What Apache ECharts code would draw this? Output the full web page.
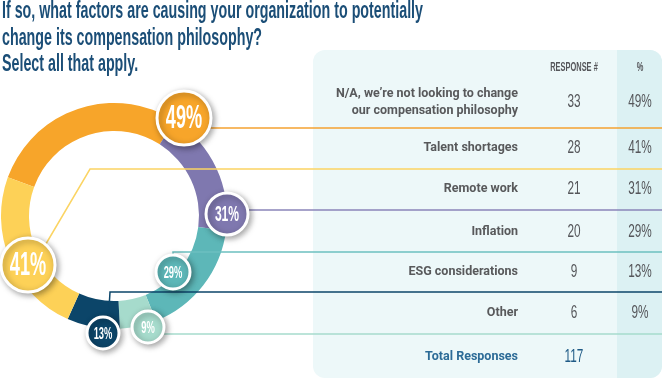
<!DOCTYPE html>
<html><head><meta charset="utf-8">
<script src="https://cdn.jsdelivr.net/npm/echarts@6/dist/echarts.min.js"></script>
<style>html,body{margin:0;padding:0;background:#fff}#c{width:662px;height:380px}</style>
</head><body><div id="c"></div>
<script>
// ---------- data ----------
const titleLines = [
  'If so, what factors are causing your organization to potentially',
  'change its compensation philosophy?',
  'Select all that apply.'
];
const categories = [
  'N/A, we\u2019re not looking to change\nour compensation philosophy',
  'Talent shortages',
  'Remote work',
  'Inflation',
  'ESG considerations',
  'Other'
];
const responses = [33, 28, 21, 20, 9, 6];
const percents = [49, 41, 31, 29, 13, 9];
const totalLabel = 'Total Responses';
const totalResponses = 117;
const headerLabels = ['RESPONSE #', '%'];
// order of the slices around the ring (clockwise), as indexes into categories
const ringOrder = [0, 2, 3, 5, 4, 1];

// ---------- styles / layout ----------
const sliceColors = ['#F7A52A', '#FDD157', '#7F78AF', '#5DB7B8', '#0C4569', '#A6DBCC'];
const lineColors  = ['#F5A230', '#FBD463', '#8A84B8', '#6CC0C0', '#0C4569', '#A6DBCC'];
const bubbleLayout = [
  {x:184, y:118, r:27, fs:33},
  {x:28,  y:265, r:27, fs:33},
  {x:227, y:214, r:21, fs:22},
  {x:173, y:272, r:17, fs:17},
  {x:103, y:333, r:16, fs:17},
  {x:148, y:327, r:16, fs:17}
];
const leaderPaths = [
  [[184,128],[662,128]],
  [[40,254],[90,169],[662,169]],
  [[227,210],[662,210]],
  [[173,262],[173,252],[662,252]],
  [[108,325],[110,292],[662,292]],
  [[148,334],[662,334]]
];
const titleY = [11, 38, 64];
const rowY = [102, 148, 189, 232, 272, 313];
const totalY = 357;
const labelRightX = 518, numX = 574, pctX = 640;
const CONDENSED = '"Liberation Sans", Arial, sans-serif';

const mctx = document.createElement('canvas').getContext('2d');
function measure(t, f){ mctx.font = f; return mctx.measureText(t).width; }

const g = [];
// table background
g.push({type:'rect', z:1, shape:{x:313, y:50, width:349, height:328, r:12}, style:{fill:'#EDF8F9'}});
g.push({type:'rect', z:1, shape:{x:617, y:50, width:45, height:328, r:[0,12,12,0]}, style:{fill:'#DCF1F3'}});

// title
const titleFont = 'bold 24px ' + CONDENSED;
const titleScale = 421 / measure(titleLines[0], titleFont);
titleLines.forEach((t, i) => {
  g.push({type:'text', z:20, x:2, y:titleY[i], scaleX:titleScale,
    style:{text:t, font:titleFont, fill:'#1B4E77', textAlign:'left', textVerticalAlign:'middle', align:'left', verticalAlign:'middle'}});
});

function condText(t, x, y, size, color, weight, sx, z){
  g.push({type:'text', z:z||20, x:x, y:y, scaleX:sx,
    style:{text:t, font:(weight||'normal') + ' ' + size + 'px ' + CONDENSED, fill:color,
      textAlign:'center', textVerticalAlign:'middle', align:'center', verticalAlign:'middle'}});
}

// header
condText(headerLabels[0], numX, 68, 12, '#55565A', 'bold', 0.62);
condText(headerLabels[1], pctX, 68, 12, '#55565A', 'bold', 0.62);

// rows
categories.forEach((c, i) => {
  g.push({type:'text', z:20, x:labelRightX, y:rowY[i],
    style:{text:c, font:'bold 12.5px Roboto, "Noto Sans", sans-serif', fill:'#58595B', lineHeight:17,
      textAlign:'right', textVerticalAlign:'middle', align:'right', verticalAlign:'middle'}});
  condText(String(responses[i]), numX, rowY[i], 19, '#55565A', 'normal', 0.62);
  condText(percents[i] + '%', pctX, rowY[i], 19, '#55565A', 'normal', 0.62);
});
g.push({type:'text', z:20, x:labelRightX, y:totalY,
  style:{text:totalLabel, font:'bold 12.5px Roboto, "Noto Sans", sans-serif', fill:'#2C6B97',
    textAlign:'right', textVerticalAlign:'middle', align:'right', verticalAlign:'middle'}});
condText(String(totalResponses), numX, totalY, 19, '#1F5A86', 'normal', 0.62);

// leader lines / row separators
leaderPaths.forEach((p, i) => {
  g.push({type:'polyline', z:10, shape:{points:p}, style:{stroke:lineColors[i], lineWidth:1.5, fill:null}});
});

// bubbles
bubbleLayout.forEach((b, i) => {
  g.push({type:'circle', z:30, shape:{cx:b.x, cy:b.y, r:b.r},
    style:{fill:sliceColors[i], stroke:'#ffffff', lineWidth:3,
      shadowBlur:6, shadowOffsetX:2, shadowOffsetY:2, shadowColor:'rgba(0,0,0,0.35)'}});
  condText(percents[i] + '%', b.x, b.y + 1, b.fs, '#ffffff', 'bold', 0.55, 31);
});

const chart = echarts.init(document.getElementById('c'));
chart.setOption({
  animation:false,
  series:[{
    type:'pie', z:5, silent:true,
    center:[114, 216], radius:[85, 113],
    startAngle:160, clockwise:true,
    label:{show:false}, labelLine:{show:false},
    itemStyle:{borderWidth:0},
    data: ringOrder.map(i => ({name:categories[i], value:percents[i], itemStyle:{color:sliceColors[i]}}))
  }],
  graphic:{elements:g}
});
</script>
</body></html>
